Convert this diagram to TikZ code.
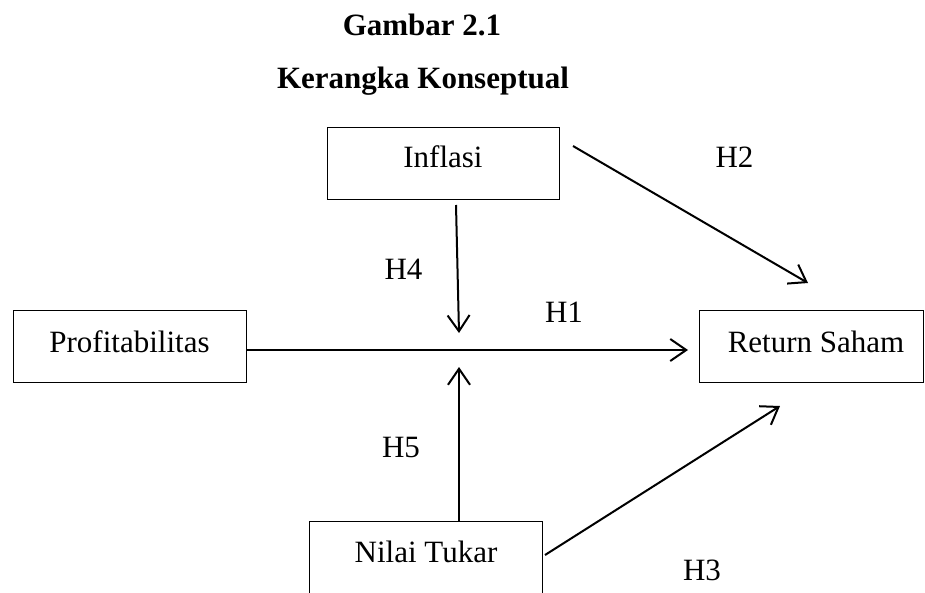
\documentclass[tikz,border=0pt]{standalone}
\usepackage{fontspec}
\setmainfont{Liberation Serif}
\usetikzlibrary{arrows.meta}
\begin{document}
\begin{tikzpicture}[x=1pt,y=-1pt,
  box/.style={draw,line width=1pt,minimum width=232pt,minimum height=72pt,inner sep=0pt},
  lab/.style={font=\fontsize{31}{36}\selectfont,inner sep=0pt,anchor=base},
  ttl/.style={font=\fontsize{31}{36}\selectfont\bfseries,inner sep=0pt,anchor=base},
  conn/.style={line width=2pt,-{Straight Barb[length=16pt,width=22pt,line width=2pt]}}]
\clip (0,0) rectangle (925,592);
\fill[white] (0,0) rectangle (925,592);
\node[ttl] (t1) at (422,35) {Gambar 2.1};
\node[ttl] (t2) at (423,88) {Kerangka Konseptual};
\node[box] (inf) at (443,163) {};
\node[box,minimum width=233pt] (prof) at (129.5,346) {};
\node[box,minimum width=224pt] (ret) at (811,346) {};
\node[box,minimum width=233pt] (nil) at (425.5,557) {};
\node[lab] (inft) at (443,167) {Inflasi};
\node[lab] (proft) at (129.5,352) {Profitabilitas};
\node[lab] (rett) at (816,352) {Return Saham};
\node[lab] (nilt) at (426,562) {Nilai Tukar};
\coordinate (a1) at (456,205);
\coordinate (a2) at (459,333);
\coordinate (b1) at (459,521);
\coordinate (b2) at (459,367);
\coordinate (c1) at (573,146);
\coordinate (c2) at (808,283);
\coordinate (d1) at (545,555);
\coordinate (d2) at (780,406);
\coordinate (e1) at (246,350);
\coordinate (e2) at (688,350);
\draw[conn] (e1) -- (e2);
\draw[conn] (a1) -- (a2);
\draw[conn] (b1) -- (b2);
\draw[conn] (c1) -- (c2);
\draw[conn] (d1) -- (d2);
\node[lab] (h1) at (564,322) {H1};
\node[lab] (h2) at (734.5,167) {H2};
\node[lab] (h3) at (702,580) {H3};
\node[lab] (h4) at (403.5,279) {H4};
\node[lab] (h5) at (401,457) {H5};
\end{tikzpicture}
\end{document}
